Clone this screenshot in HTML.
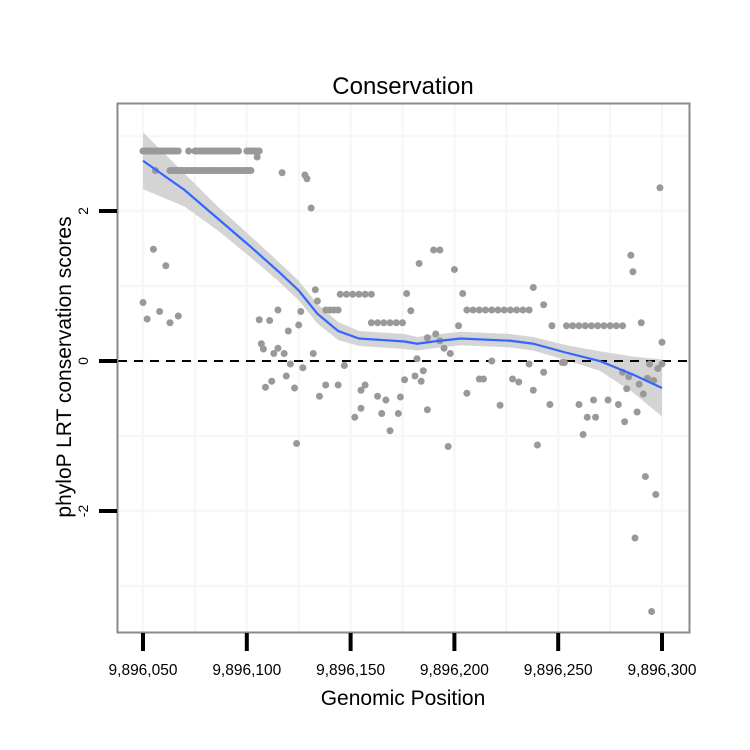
<!DOCTYPE html>
<html><head><meta charset="utf-8"><style>
html,body{margin:0;padding:0;background:#fff;}
svg{display:block;font-family:"Liberation Sans",sans-serif;}
</style></head><body>
<svg id="chart" width="750" height="750" viewBox="0 0 750 750">
<rect x="0" y="0" width="750" height="750" fill="#fff"/>
<g id="grid"></g>
<path id="band" fill="#d4d4d4"/>
<line id="zeroline" stroke="#000" stroke-width="2" stroke-dasharray="9,7"/>
<g id="points"></g>
<path id="smooth" fill="none" stroke="#3366ff" stroke-width="2.2"/>
<rect x="117.5" y="103.5" width="572" height="529" fill="none" stroke="#8a8a8a" stroke-width="2"/>
<g id="axes"></g>
<text x="403" y="94" font-size="24" text-anchor="middle">Conservation</text>
<text x="403" y="705" font-size="21" text-anchor="middle">Genomic Position</text>
<text transform="translate(71,367) rotate(-90)" font-size="21" text-anchor="middle">phyloP LRT conservation scores</text>
</svg>
<script>
const B = 9896050;
const xTicks = [9896050, 9896100, 9896150, 9896200, 9896250, 9896300];
const xTickLabels = ["9,896,050","9,896,100","9,896,150","9,896,200","9,896,250","9,896,300"];
const yTicks = [2, 0, -2];
const yTickLabels = ["2","0","-2"];
const xMinor = [9896075, 9896125, 9896175, 9896225, 9896275];
const yMinor = [3, 1, -1, -3];
const ptPos = [
0,1,2,3,4,5,6,7,8,9,10,11,12,13,14,15,16,17,22,25,26,27,28,29,30,31,32,33,34,35,36,37,38,39,40,41,42,43,44,45,46,50,51,52,53,54,55,56,
6,13,14,15,16,17,18,19,20,21,22,23,24,25,26,27,28,29,30,31,32,33,34,35,36,37,38,39,40,41,42,43,44,45,46,47,48,49,50,51,52,
55,67,78,79,81,5,11,0,2,8,13,17,56,61,65,76,83,84,88,90,92,94,
95,98,101,104,107,110,127,110,113,116,119,122,125,70,75,57,58,63,65,68,82,71,77,97,69,62,59,73,88,85,94,105,107,113,117,124,105,102,115,123,119,74,126,
249,140,143,133,150,235,236,154,129,156,159,162,165,168,171,174,177,180,183,186,188,193,152,197,
204,207,210,213,216,219,222,225,228,231,240,250,137,141,143,145,148,132,135,131,134,137,156,162,164,168,172,178,181,186,188,193,196,202,203,
210,217,214,218,212,224,229,231,234,233,232,238,239,241,243,246,244,248,250,147,190,242,247,237,245
].map(d => B + d);
const ptVal = [
2.8,2.8,2.8,2.8,2.8,2.8,2.8,2.8,2.8,2.8,2.8,2.8,2.8,2.8,2.8,2.8,2.8,2.8,2.8,2.8,2.8,2.8,2.8,2.8,2.8,2.8,2.8,2.8,2.8,2.8,2.8,2.8,2.8,2.8,2.8,2.8,2.8,2.8,2.8,2.8,2.8,2.8,2.8,2.8,2.8,2.8,2.8,2.8,
2.54,2.54,2.54,2.54,2.54,2.54,2.54,2.54,2.54,2.54,2.54,2.54,2.54,2.54,2.54,2.54,2.54,2.54,2.54,2.54,2.54,2.54,2.54,2.54,2.54,2.54,2.54,2.54,2.54,2.54,2.54,2.54,2.54,2.54,2.54,2.54,2.54,2.54,2.54,2.54,2.54,
2.72,2.51,2.48,2.43,2.04,1.49,1.27,0.78,0.56,0.66,0.51,0.6,0.55,0.54,0.68,0.66,0.95,0.8,0.68,0.68,0.68,0.68,
0.89,0.89,0.89,0.89,0.89,0.89,0.9,0.51,0.51,0.51,0.51,0.51,0.51,0.4,0.48,0.23,0.16,0.1,0.17,0.1,0.1,-0.04,-0.09,-0.06,-0.2,-0.27,-0.35,-0.36,-0.32,-0.47,-0.32,-0.39,-0.32,-0.47,-0.52,-0.48,-0.63,-0.75,-0.7,-0.7,-0.93,-1.1,-0.25,
2.31,1.48,1.48,1.3,1.22,1.41,1.19,0.9,0.67,0.68,0.68,0.68,0.68,0.68,0.68,0.68,0.68,0.68,0.68,0.68,0.98,0.75,0.47,0.47,
0.47,0.47,0.47,0.47,0.47,0.47,0.47,0.47,0.47,0.47,0.51,0.25,0.31,0.36,0.27,0.17,0.1,0.03,-0.13,-0.2,-0.27,-0.65,-0.43,-0.24,-0.24,0,-0.59,-0.24,-0.28,-0.04,-0.39,-0.15,-0.58,-0.02,-0.02,
-0.58,-0.52,-0.75,-0.75,-0.98,-0.52,-0.58,-0.15,-0.21,-0.37,-0.81,-0.68,-0.31,-0.44,-0.23,-0.26,-0.04,-0.1,-0.04,-1.14,-1.12,-1.54,-1.78,-2.36,-3.34
];
const fitPos = [0,20,36,52,65,75,84,94,104,126,132,140,153,177,188,204,220,236,250].map(d => B + d);
const fitVal = [2.67,2.28,1.9,1.52,1.2,0.94,0.63,0.4,0.3,0.26,0.23,0.26,0.3,0.27,0.23,0.11,0,-0.18,-0.36];
const fitSe = [0.38,0.22,0.16,0.14,0.13,0.13,0.13,0.12,0.1,0.1,0.09,0.09,0.09,0.09,0.09,0.1,0.13,0.24,0.38];

const NS = "http://www.w3.org/2000/svg";
const X = v => 143 + (v - B) * 2.076;
const Y = v => 361 - v * 75;
function mk(tag, attrs, parent){const e=document.createElementNS(NS,tag);for(const k in attrs)e.setAttribute(k,attrs[k]);parent.appendChild(e);return e;}

const grid = document.getElementById('grid');
xMinor.concat(xTicks).forEach(v=>{
  const l = mk('line',{x1:X(v),x2:X(v),y1:104,y2:632,stroke:'#f7f7f7','stroke-width':2.5},grid);
  
  
});
yMinor.concat(yTicks).forEach(v=>{
  const l = mk('line',{x1:118,x2:689,y1:Y(v),y2:Y(v),stroke:'#f7f7f7','stroke-width':2.5},grid);
  
  
});

let up='', lo='';
fitPos.forEach((p,i)=>{ up += (i?'L':'M') + X(p) + ',' + Y(fitVal[i]+fitSe[i]); });
for(let i=fitPos.length-1;i>=0;i--){ lo += 'L' + X(fitPos[i]) + ',' + Y(fitVal[i]-fitSe[i]); }
document.getElementById('band').setAttribute('d', up + lo + 'Z');
let sp='';
fitPos.forEach((p,i)=>{ sp += (i?'L':'M') + X(p) + ',' + Y(fitVal[i]); });
document.getElementById('smooth').setAttribute('d', sp);

const zl = document.getElementById('zeroline');
zl.setAttribute('x1',118); zl.setAttribute('x2',689); zl.setAttribute('y1',Y(0)); zl.setAttribute('y2',Y(0));

const pts = document.getElementById('points');
ptPos.forEach((p,i)=>{
  const c = mk('circle',{cx:X(p),cy:Y(ptVal[i]),r:3.5,fill:'#999'},pts);
  
  
});

const axes = document.getElementById('axes');
xTicks.forEach((v,i)=>{
  const t = mk('line',{x1:X(v),x2:X(v),y1:633,y2:651,stroke:'#000','stroke-width':4},axes);
  
  
  const tx = mk('text',{x:X(v),y:675,'font-size':15.5,'text-anchor':'middle'},axes);
  tx.textContent = xTickLabels[i];
  
  
});
yTicks.forEach((v,i)=>{
  const t = mk('line',{x1:99,x2:117,y1:Y(v),y2:Y(v),stroke:'#000','stroke-width':4},axes);
  
  
  const tx = mk('text',{transform:'translate(88,'+Y(v)+') rotate(-90)','font-size':14,'text-anchor':'middle'},axes);
  tx.textContent = yTickLabels[i];
  
  
});
</script>
</body></html>
